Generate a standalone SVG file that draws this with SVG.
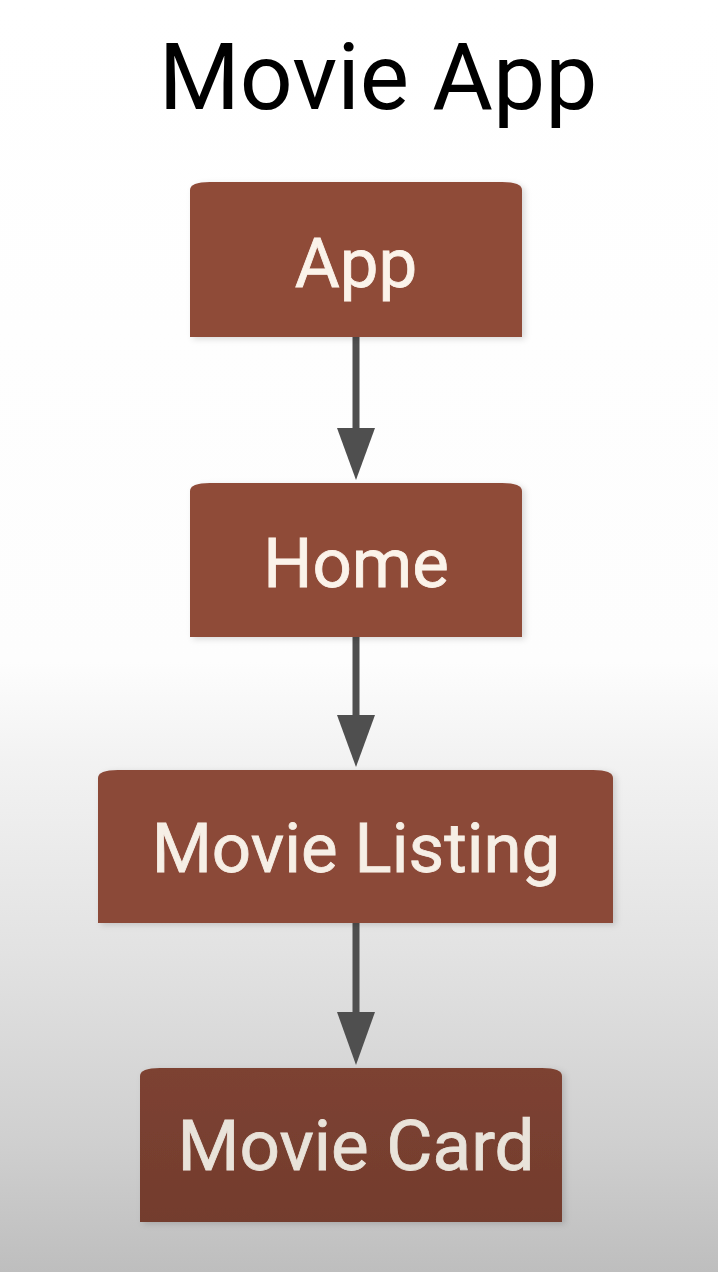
<svg xmlns="http://www.w3.org/2000/svg" width="718" height="1272" viewBox="0 0 718 1272">
<style>
.box{fill:#8F4B39;}
.lbl{font-family:Roboto,"Liberation Sans",sans-serif;font-size:69px;fill:#FBF3EA;stroke:#FBF3EA;stroke-width:0.8;text-anchor:middle;}
.title{font-family:Roboto,"Liberation Sans",sans-serif;font-size:93px;fill:#000;text-anchor:middle;}
.edge{stroke:#4F4F4F;stroke-width:7;fill:none;}
.head{fill:#4F4F4F;}
</style>
<defs>
<linearGradient id="bg" gradientUnits="userSpaceOnUse" x1="0" y1="0" x2="0" y2="1272">
<stop offset="0" stop-color="#FFFFFF"/>
<stop offset="0.52" stop-color="#FDFDFD"/>
<stop offset="0.6" stop-color="#F2F2F2"/>
<stop offset="0.75" stop-color="#E2E2E2"/>
<stop offset="0.9" stop-color="#CFCFCF"/>
<stop offset="1" stop-color="#BEBEBE"/>
</linearGradient>
<linearGradient id="cardfill" x1="0" y1="0" x2="0" y2="1">
<stop offset="0" stop-color="#7D4232"/>
<stop offset="1" stop-color="#733C2D"/>
</linearGradient>
<filter id="sh" x="-10%" y="-10%" width="120%" height="120%">
<feDropShadow dx="3" dy="2" stdDeviation="3" flood-color="#000" flood-opacity="0.15"/>
</filter>
</defs>
<rect x="0" y="0" width="718" height="1272" fill="url(#bg)"/>
<text class="title" x="378" y="109">Movie App</text>
<g id="connectors">
<line class="edge" x1="356" y1="335" x2="356" y2="432"/>
<polygon class="head" points="337,428 375,428 356,480"/>
<line class="edge" x1="356" y1="635" x2="356" y2="718"/>
<polygon class="head" points="337,715 375,715 356,767"/>
<line class="edge" x1="356" y1="921" x2="356" y2="1015"/>
<polygon class="head" points="337,1012 375,1012 356,1065"/>
</g>
<g id="node-app">
<path class="box" filter="url(#sh)" d="M190,337 L190,190 Q190,182 210,182 L502,182 Q522,182 522,190 L522,337 Z"/>
<text class="lbl" x="356" y="287">App</text>
</g>
<g id="node-home">
<path class="box" filter="url(#sh)" d="M190,637 L190,491 Q190,483 210,483 L502,483 Q522,483 522,491 L522,637 Z"/>
<text class="lbl" x="356" y="587">Home</text>
</g>
<g id="node-movie-listing">
<path class="box" filter="url(#sh)" style="fill:#8B4837" d="M98,923 L98,778 Q98,770 118,770 L593,770 Q613,770 613,778 L613,923 Z"/>
<text class="lbl" x="356" y="872" style="fill:#F6EFE6;stroke:#F6EFE6">Movie Listing</text>
</g>
<g id="node-movie-card">
<path class="box" filter="url(#sh)" style="fill:url(#cardfill)" d="M140,1222 L140,1076 Q140,1068 160,1068 L542,1068 Q562,1068 562,1076 L562,1222 Z"/>
<text class="lbl" x="356" y="1170" style="font-size:71px;fill:#E9E3DA;stroke:#E9E3DA">Movie Card</text>
</g>
</svg>
